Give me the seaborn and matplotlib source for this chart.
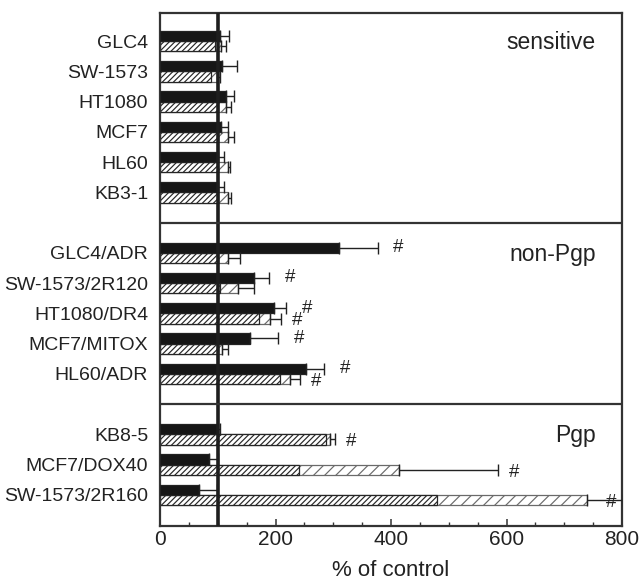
import numpy as np
import pandas as pd
import matplotlib
matplotlib.use("Agg")
import matplotlib.pyplot as plt
import matplotlib.transforms as mtransforms
from matplotlib.ticker import MultipleLocator
import seaborn as sns

# ---------------- data ----------------
cells = ["GLC4", "SW-1573", "HT1080", "MCF7", "HL60", "KB3-1",
         "GLC4/ADR", "SW-1573/2R120", "HT1080/DR4", "MCF7/MITOX", "HL60/ADR",
         "KB8-5", "MCF7/DOX40", "SW-1573/2R160"]
groups = ["sensitive"] * 6 + ["non-Pgp"] * 5 + ["Pgp"] * 3
panel_names = ["sensitive", "non-Pgp", "Pgp"]

solid_vals = [104, 107, 114, 106, 101, 101, 310, 162, 197, 156, 253, 101, 85, 68]
solid_err = [16, 27, 14, 11, 9, 9, 67, 27, 22, 49, 31, 3, 16, 30]
hatch_vals = [95, 88, 100, 100, 100, 100, 101, 104, 171, 101, 208, 287, 241, 479]
open_vals = [106, 98, 115, 117, 117, 117, 118, 135, 190, 107, 225, 295, 414, 739]
open_err = [8, 6, 8, 11, 4, 6, 21, 27, 19, 11, 17, 8, 172, 63]
solid_sig = [False] * 6 + [True] * 5 + [False] * 3
open_sig = [False] * 6 + [False, False, True, False, True] + [True] * 3

xticks = [0, 200, 400, 600, 800]
xlabel = "% of control"
ref_value = 100

# ---------------- style ----------------
sns.set_style("white")
plt.rcParams["font.family"] = ["Liberation Sans", "DejaVu Sans"]
plt.rcParams["hatch.linewidth"] = 0.85

fig = plt.figure(figsize=(6.43, 5.85), dpi=100)
ax = fig.add_axes([160 / 643, 1 - 526 / 585, 462 / 643, 513 / 585])

# categorical order with blank spacer rows between panels
order = []
for k, g in enumerate(panel_names):
    order += [c for c, gg in zip(cells, groups) if gg == g]
    if k < len(panel_names) - 1:
        order.append(" " * (k + 1))
pos = {c: i for i, c in enumerate(order)}

width = 0.68
off = width / 4

df = pd.DataFrame({
    "cell": cells * 2,
    "series": ["solid"] * len(cells) + ["open"] * len(cells),
    "value": solid_vals + open_vals,
})
sns.barplot(data=df, y="cell", x="value", hue="series", hue_order=["solid", "open"],
            order=order, orient="h", width=width, gap=0, dodge=True,
            palette={"solid": "#161616", "open": "white"}, saturation=1,
            errorbar=None, legend=False, ax=ax, edgecolor="#222222", linewidth=0.9)
for p in ax.containers[1]:
    p.set_hatch("///")
    p.set_edgecolor("#6a6a6a")
    p.set_zorder(2)
for p in ax.containers[0]:
    p.set_zorder(3)

# dense-hatched series overlaid on the lower bar of each row
ys_solid = [pos[c] - off for c in cells]
ys_open = [pos[c] + off for c in cells]
ax.barh(ys_open, hatch_vals, height=width / 2, color="white", edgecolor="#262626",
        linewidth=0.9, hatch="//////", zorder=2.5)

# error bars (one-sided)
ax.errorbar(solid_vals, ys_solid, xerr=[np.zeros(len(cells)), solid_err], fmt="none",
            ecolor="#222222", elinewidth=1.0, capsize=4.5, capthick=1.0, zorder=4)
ax.errorbar(open_vals, ys_open, xerr=[np.zeros(len(cells)), open_err], fmt="none",
            ecolor="#222222", elinewidth=1.0, capsize=4.5, capthick=1.0, zorder=4)

# significance marks
for c, v, e, s in zip(cells, solid_vals, solid_err, solid_sig):
    if s:
        ax.text(min(v + e + 36, 782), pos[c] - off, "#", ha="center", va="center",
                fontsize=13.5, color="#222222")
for c, v, e, s in zip(cells, open_vals, open_err, open_sig):
    if s:
        ax.text(min(v + e + 28, 782), pos[c] + off + 0.08, "#", ha="center", va="center",
                fontsize=13.5, color="#222222")

# reference line and panel separators
ax.axvline(ref_value, color="#1e1e1e", lw=2.6, zorder=6)
for k in range(len(panel_names) - 1):
    ax.axhline(pos[" " * (k + 1)], color="#333333", lw=1.6, zorder=6)

# panel labels
trans = mtransforms.blended_transform_factory(ax.transAxes, ax.transData)
for g in panel_names:
    first = [c for c, gg in zip(cells, groups) if gg == g][0]
    ax.text(0.943, pos[first] + 0.05, g, transform=trans, ha="right", va="center",
            fontsize=16.5, color="#222222")

# axes
ax.set_xlim(xticks[0], xticks[-1])
ax.set_ylim(16.03, -0.93)
ax.set_xticks(xticks)
ax.set_xticklabels([str(t) for t in xticks])
ax.xaxis.set_minor_locator(MultipleLocator(50))
ax.tick_params(axis="x", which="major", direction="in", length=5, width=1.1,
               bottom=True, top=False, labelsize=15, pad=3, color="#333333")
ax.tick_params(axis="x", which="minor", direction="in", length=3.2, width=1.0,
               bottom=True, top=False, color="#333333")
ax.tick_params(axis="y", length=0, pad=8.5, labelsize=14)
ax.set_ylabel("")
ax.set_xlabel(xlabel, fontsize=16, labelpad=8, color="#222222")
for lab in ax.get_yticklabels() + ax.get_xticklabels():
    lab.set_color("#222222")
for sp in ax.spines.values():
    sp.set_visible(True)
    sp.set_linewidth(1.6)
    sp.set_color("#333333")

fig.savefig("out.png", dpi=100, facecolor="white")
